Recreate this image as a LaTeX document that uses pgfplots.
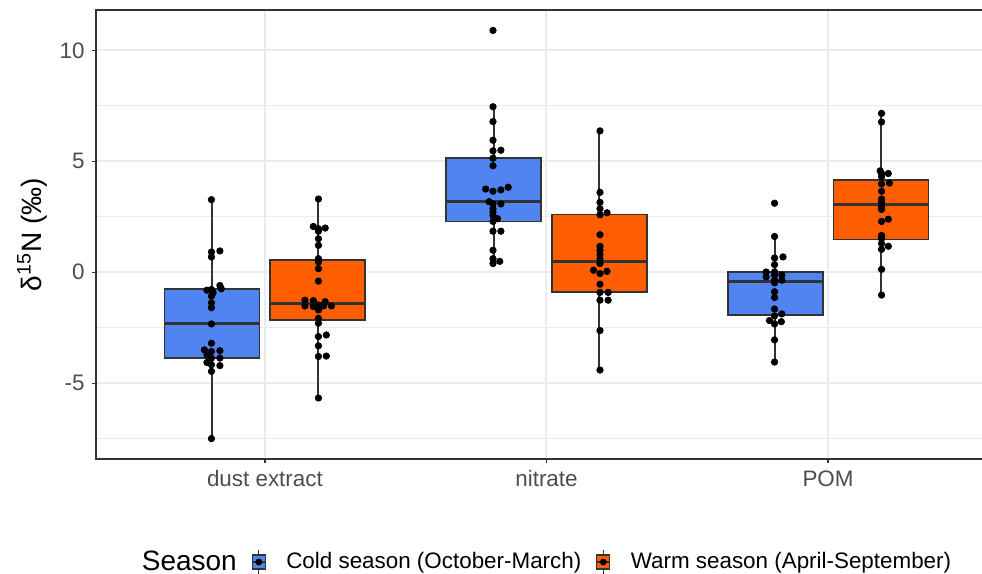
\documentclass[border=0pt]{standalone}
\usepackage{fontspec}
\setmainfont{Liberation Sans}
\usepackage{pgfplots}
\pgfplotsset{compat=1.18}
\usepgfplotslibrary{statistics}
\definecolor{coldblue}{RGB}{80,132,241}
\definecolor{warmorange}{RGB}{255,94,0}
\definecolor{gridgray}{RGB}{235,235,235}
\definecolor{gray20}{RGB}{51,51,51}
\definecolor{gray30}{RGB}{77,77,77}

\pgfplotstableread{
x y
0.81 3.27
0.81 0.91
0.84 0.96
0.81 0.69
0.81 -0.78
0.794 -0.81
0.84 -0.6
0.845 -0.75
0.816 -0.93
0.81 -1.08
0.81 -1.38
0.81 -1.6
0.81 -2.33
0.81 -3.2
0.785 -3.5
0.81 -3.57
0.84 -3.54
0.794 -3.72
0.81 -3.87
0.84 -3.87
0.794 -4.07
0.81 -4.17
0.84 -4.21
0.81 -4.47
0.81 -7.5
}\dustcold
\pgfplotstableread{
x y
1.19 3.3
1.172 2.06
1.19 1.96
1.214 1.99
1.19 1.85
1.19 1.51
1.19 1.21
1.19 0.61
1.19 0.46
1.19 0.16
1.19 -0.40
1.142 -1.26
1.172 -1.28
1.214 -1.33
1.142 -1.52
1.19 -1.48
1.172 -1.55
1.208 -1.52
1.236 -1.52
1.19 -1.70
1.19 -2.08
1.19 -2.3
1.19 -2.9
1.218 -2.83
1.19 -3.32
1.19 -3.8
1.218 -3.78
1.19 -5.67
}\dustwarm
\pgfplotstableread{
x y
1.81 10.9
1.81 7.46
1.81 6.79
1.81 5.95
1.81 5.47
1.838 5.5
1.81 5.14
1.81 4.8
1.784 3.75
1.81 3.65
1.838 3.71
1.864 3.83
1.796 3.18
1.81 3.08
1.838 3.08
1.81 2.86
1.81 2.71
1.81 2.56
1.826 2.41
1.81 2.29
1.81 1.85
1.838 1.85
1.81 0.99
1.81 0.61
1.834 0.49
1.81 0.39
}\nitcold
\pgfplotstableread{
x y
2.19 6.37
2.19 3.6
2.19 3.15
2.19 2.86
2.215 2.68
2.19 2.59
2.19 1.69
2.19 1.17
2.19 0.99
2.19 0.79
2.19 0.61
2.19 0.39
2.167 0.09
2.19 -0.06
2.215 0.04
2.19 -0.54
2.19 -0.91
2.219 -0.91
2.19 -1.26
2.219 -1.26
2.19 -2.63
2.19 -4.41
}\nitwarm
\pgfplotstableread{
x y
2.81 3.11
2.81 1.61
2.81 0.64
2.84 0.69
2.81 0.34
2.78 0.01
2.81 0.01
2.78 -0.21
2.81 -0.13
2.836 -0.13
2.81 -0.36
2.836 -0.36
2.81 -0.48
2.81 -0.88
2.81 -1.14
2.81 -1.66
2.81 -1.97
2.836 -1.88
2.792 -2.18
2.81 -2.33
2.834 -2.23
2.81 -3.05
2.81 -4.05
}\pomcold
\pgfplotstableread{
x y
3.19 7.16
3.19 6.77
3.185 4.57
3.214 4.45
3.19 4.45
3.19 4.3
3.218 4.02
3.19 3.98
3.19 3.65
3.19 3.3
3.19 3.18
3.19 2.97
3.19 2.83
3.214 2.39
3.19 2.29
3.19 1.66
3.19 1.51
3.19 1.29
3.214 1.17
3.19 1.03
3.19 0.13
3.19 -1.03
}\pomwarm

\pgfplotsset{
  boxkey/.style={legend image code/.code={
    \draw[gray20, line width=0.6pt] (3.25pt,-6pt) -- (3.25pt,6pt);
    \draw[gray20, line width=0.6pt, fill=#1] (0pt,-3.5pt) rectangle (6.5pt,3.5pt);
    \draw[gray20, line width=0.9pt] (0pt,0pt) -- (6.5pt,0pt);
    \fill[black] (3.25pt,0pt) circle (1.5pt);
    \path[draw=none, fill=none] (0pt,0pt) -- (15pt,0pt);
  }},
}

\begin{document}
\begin{tikzpicture}
\useasboundingbox (-48pt,-57.5pt) rectangle (443pt,229.5pt);
\clip (-48pt,-57.5pt) rectangle (443pt,229.5pt);
\begin{axis}[
  at={(0pt,0pt)}, anchor=south west,
  scale only axis,
  width=450.5pt, height=224.5pt,
  xmin=0.4, xmax=3.6,
  ymin=-8.42, ymax=11.82,
  xtick={1,2,3},
  xticklabels={dust extract,nitrate,POM},
  ytick={-5,0,5,10},
  yticklabels={-5,0,5,10},
  minor ytick={-7.5,-2.5,2.5,7.5},
  xmajorgrids, ymajorgrids, yminorgrids,
  major grid style={gridgray, line width=1pt},
  minor grid style={gridgray, line width=0.55pt},
  axis line style={gray20, line width=0.7pt},
  tick align=outside, tick pos=left,
  major tick length=2.2pt, minor tick length=0pt,
  tick style={gray20, line width=0.6pt},
  ticklabel style={font=\fontsize{11.2}{13}\selectfont, text=gray30},
  ylabel={δ\textsuperscript{15}N (‰)},
  ylabel style={font=\fontsize{14}{16}\selectfont, at={(axis description cs:-0.071,0.5)}, anchor=center},
  legend columns=-1,
  legend style={draw=none, fill=none, at={(axis description cs:0.5,-0.2294)}, anchor=center,
    font=\fontsize{11.2}{13}\selectfont,
    /tikz/every even column/.append style={column sep=5.3pt}},
  boxplot/draw direction=y,
  boxplot/box extend=0.3375,
  boxplot/whisker extend=0,
  boxplot/every median/.style={line width=1.5pt},
]
\addlegendimage{empty legend}
\addlegendentry{\fontsize{14}{16}\selectfont Season}
\addlegendimage{boxkey=coldblue}
\addlegendentry{Cold season (October-March)}
\addlegendimage{boxkey=warmorange}
\addlegendentry{Warm season (April-September)}

\addplot[boxplot prepared={lower whisker=-7.5, lower quartile=-3.86, median=-2.33, upper quartile=-0.76, upper whisker=3.27, draw position=0.8125}, draw=gray20, line width=0.8pt, fill=coldblue, forget plot] coordinates {};
\addplot[boxplot prepared={lower whisker=-5.67, lower quartile=-2.15, median=-1.39, upper quartile=0.54, upper whisker=3.3, draw position=1.1875}, draw=gray20, line width=0.8pt, fill=warmorange, forget plot] coordinates {};
\addplot[boxplot prepared={lower whisker=0.39, lower quartile=2.29, median=3.18, upper quartile=5.16, upper whisker=7.46, draw position=1.8125}, draw=gray20, line width=0.8pt, fill=coldblue, forget plot] coordinates {};
\addplot[boxplot prepared={lower whisker=-4.41, lower quartile=-0.9, median=0.49, upper quartile=2.6, upper whisker=6.37, draw position=2.1875}, draw=gray20, line width=0.8pt, fill=warmorange, forget plot] coordinates {};
\addplot[boxplot prepared={lower whisker=-4.05, lower quartile=-1.93, median=-0.4, upper quartile=0.0, upper whisker=1.61, draw position=2.8125}, draw=gray20, line width=0.8pt, fill=coldblue, forget plot] coordinates {};
\addplot[boxplot prepared={lower whisker=-1.03, lower quartile=1.48, median=3.05, upper quartile=4.17, upper whisker=7.16, draw position=3.1875}, draw=gray20, line width=0.8pt, fill=warmorange, forget plot] coordinates {};

\addplot[only marks, mark=*, mark size=1.6pt, black, forget plot] table {\dustcold};
\addplot[only marks, mark=*, mark size=1.6pt, black, forget plot] table {\dustwarm};
\addplot[only marks, mark=*, mark size=1.6pt, black, forget plot] table {\nitcold};
\addplot[only marks, mark=*, mark size=1.6pt, black, forget plot] table {\nitwarm};
\addplot[only marks, mark=*, mark size=1.6pt, black, forget plot] table {\pomcold};
\addplot[only marks, mark=*, mark size=1.6pt, black, forget plot] table {\pomwarm};
\end{axis}
\end{tikzpicture}
\end{document}
